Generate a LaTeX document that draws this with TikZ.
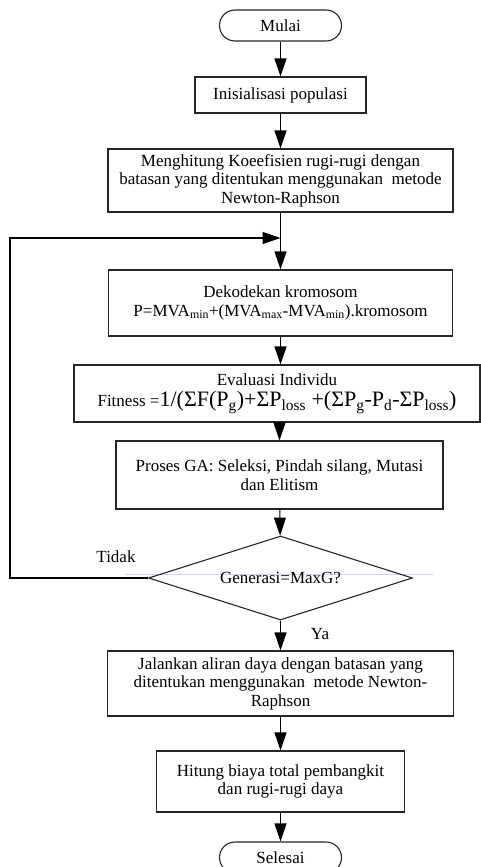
\documentclass[tikz,border=0pt]{standalone}
\usepackage{fontspec}
\setmainfont{Liberation Serif}
\usepackage{tikz}
\usetikzlibrary{arrows.meta,shapes.geometric}
\definecolor{faint}{RGB}{205,214,232}

\begin{document}
\begin{tikzpicture} [x=1pt, y=-1pt, line width=1.1pt, >={Triangle[length=18pt,width=12pt]},
    every node/.style={draw=black!85, align=center, font=\fontsize{17}{18.5}\selectfont},
    term/.style={rounded corners=15.5pt, minimum width=122pt, minimum height=31pt},
    decision/.style={diamond, aspect=3.1, minimum width=264pt, minimum height=84pt, inner sep=0pt}]
    \useasboundingbox (0, 0) rectangle (481, 867);

    % start and init
    \node[term] (start) at (280.5, 25.5) {Mulai};
    \node[minimum width=171pt, minimum height=36pt] (init) at (280.5, 95) {Inisialisasi populasi};
    \node[minimum width=345pt, minimum height=63pt] (coef) at (280.5, 180.5)
        {Menghitung Koeefisien rugi-rugi dengan\\batasan yang ditentukan menggunakan~ metode\\Newton-Raphson};

    % GA loop
    \node[minimum width=344pt, minimum height=66pt] (decode) at (280.5, 303)
        {Dekodekan kromosom\\P=MVA\textsubscript{min}+(MVA\textsubscript{max}-MVA\textsubscript{min}).kromosom};
    \node[minimum width=406pt, minimum height=57pt] (eval) at (277, 393.5)
        {Evaluasi Individu\\[3pt]Fitness ={\fontsize{22}{22}\selectfont 1/(ΣF(P\textsubscript{g})+ΣP\textsubscript{loss} +(ΣP\textsubscript{g}-P\textsubscript{d}-ΣP\textsubscript{loss})}};
    \node[minimum width=327pt, minimum height=68pt] (ga) at (279.5, 475)
        {Proses GA: Seleksi, Pindah silang, Mutasi\\dan Elitism};
    \draw[faint, line width=0.6pt] (125, 574) -- (433, 574);
    \node[decision] (cond) at (280.5, 578) {Generasi=MaxG?};
    \node[draw=none] (no) at (116, 557) {Tidak};
    \node[draw=none] (yes) at (320, 634) {Ya};

    % loop corners
    \coordinate (loopa) at (10, 578);
    \coordinate (loopb) at (10, 238);
    \coordinate (merge) at (280.5, 238);

    % result
    \node[minimum width=346pt, minimum height=65pt] (run) at (280.5, 683.5)
        {Jalankan aliran daya dengan batasan yang\\ditentukan menggunakan~ metode Newton-\\Raphson};
    \node[minimum width=248pt, minimum height=61pt] (cost) at (280.5, 781.5)
        {Hitung biaya total pembangkit\\dan rugi-rugi daya};
    \node[term] (stop) at (280.5, 857.5) {Selesai};

    % draw flow
    \draw[->] (start) -- (init);
    \draw[->] (init) -- (coef);
    \draw[->] (coef) -- (decode);
    \draw[->] (decode) -- (decode |- eval.north);
    \draw[->] (eval.south -| ga) -- (ga);
    \draw[->] (ga) -- (cond);
    \draw[->] (cond) -- (run);
    \draw[->] (run) -- (cost);
    \draw[->] (cost) -- (stop);

    % back to decode
    \draw[->] (cond.west) -- (loopa) -- (loopb) -- (merge);

\end{tikzpicture}
\end{document}
